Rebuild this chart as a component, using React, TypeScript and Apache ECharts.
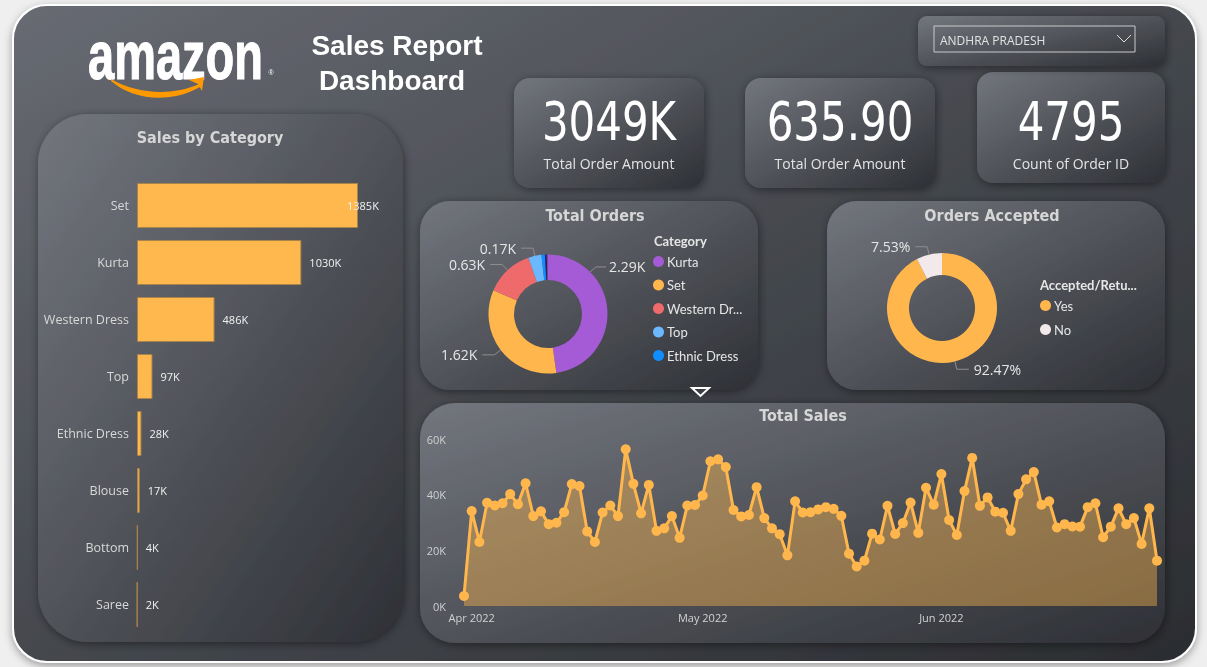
import React, { useEffect, useRef } from "react";
import * as echarts from "echarts";

// ---------- data ----------
const salesCategories = ["Set", "Kurta", "Western Dress", "Top", "Ethnic Dress", "Blouse", "Bottom", "Saree"];
const salesByCategoryK = [1385, 1030, 486, 97, 28, 17, 4, 2];

const orderCategories = ["Kurta", "Set", "Western Dress", "Top", "Ethnic Dress", "Blouse", "Bottom", "Saree"];
const orderCounts = [2290, 1620, 630, 170, 45, 25, 10, 5];
const orderColors = ["#a65bd6", "#ffb74d", "#ef6a6a", "#6cb8ff", "#118dff", "#12239e", "#e66c37", "#6b007b"];
const orderLegendCount = 5;

const acceptedLabels = ["Yes", "No"];
const acceptedShares = [92.47, 7.53];
const acceptedColors = ["#ffb74d", "#f3e9ea"];

const kpiValues = ["3049K", "635.90", "4795"];
const kpiLabels = ["Total Order Amount", "Total Order Amount", "Count of Order ID"];

const stateSelected = "ANDHRA PRADESH";

const salesStartDate = "2022-03-31";
const dailySalesK = [
  3.6, 34.1, 23.0, 37.1, 36.1, 36.9, 40.2, 36.6, 44.1, 32.3,
  34.0, 29.4, 29.9, 33.7, 43.8, 43.1, 26.8, 23.0, 33.6, 36.1,
  32.3, 56.3, 43.9, 33.3, 43.5, 27.0, 27.9, 32.3, 24.5, 36.1,
  36.3, 39.7, 52.0, 52.7, 49.9, 34.5, 32.2, 32.7, 42.7, 31.6,
  27.9, 25.8, 18.2, 37.6, 33.6, 33.7, 34.7, 35.5, 34.9, 32.4,
  18.8, 14.2, 16.3, 26.0, 23.9, 36.0, 25.9, 29.8, 37.2, 26.3,
  42.5, 36.4, 47.4, 30.9, 25.5, 41.3, 53.2, 36.0, 39.0, 33.9,
  33.5, 27.0, 40.2, 45.5, 48.1, 36.4, 37.6, 28.2, 29.4, 28.6,
  28.5, 35.5, 36.9, 24.7, 28.5, 35.1, 29.4, 31.6, 22.3, 35.1, 16.3,
];
const salesAxisMaxK = 60;
const salesAxisStepK = 20;
const monthNames = ["Jan", "Feb", "Mar", "Apr", "May", "Jun", "Jul", "Aug", "Sep", "Oct", "Nov", "Dec"];

// category list of dates (one per data point)
const salesDates: string[] = (() => {
  const out: string[] = [];
  const start = new Date(salesStartDate + "T00:00:00Z");
  for (let i = 0; i < dailySalesK.length; i++) {
    const d = new Date(start.getTime() + i * 86400000);
    out.push(d.toISOString().slice(0, 10));
  }
  return out;
})();

// ---------- layout constants ----------
const PIE1_CENTER = [548, 314];
const PIE1_RADIUS = [34, 59.5];
const PIE2_CENTER = [942, 308];
const PIE2_RADIUS = [33, 55];

const FONT_UI = "'Open Sans', 'Noto Sans', sans-serif";
const FONT_LEG = "Lato, 'Open Sans', sans-serif";
const FONT_DIN = "'DejaVu Sans Condensed', 'DejaVu Sans', sans-serif";

const cardFill = () =>
  new echarts.graphic.LinearGradient(0, 0, 1, 1, [
    { offset: 0, color: "#73767e" },
    { offset: 1, color: "#2e3035" },
  ]);

const card = (x: number, y: number, w: number, h: number, r: number) => ({
  type: "rect",
  shape: { x, y, width: w, height: h, r },
  style: {
    fill: cardFill(),
    shadowBlur: 10,
    shadowColor: "rgba(0,0,0,0.45)",
    shadowOffsetX: 1,
    shadowOffsetY: 2,
  },
  z: 1,
});

const txt = (x: number, y: number, text: string, size: number, opts: any = {}) => ({
  type: "text",
  x,
  y,
  z: 5,
  scaleX: opts.scaleX || 1,
  style: {
    text,
    fontSize: size,
    fontFamily: opts.family || FONT_DIN,
    fontWeight: opts.weight || "normal",
    fill: opts.color || "#d6d6d6",
    textAlign: opts.align || "center",
    textVerticalAlign: "middle",
  },
});

let shapeRegistered = false;
function registerShapes() {
  if (shapeRegistered) return;
  shapeRegistered = true;
  const smile =
    "M111,79 C135,93 170,97 199,84 L200,87 C170,104 133,100 111,81 Z M189,80 L204,77 L202,91 L198,84 Z";
  echarts.graphic.registerShape("smile", echarts.graphic.extendPath(smile, {}) as any);
}

export default function App() {
  const ref = useRef<HTMLDivElement>(null);

  useEffect(() => {
    if (!ref.current) return;
    registerShapes();
    const chart = echarts.init(ref.current, undefined, { renderer: "svg" });

    const kpiBoxes = [
      { x: 514, y: 78, w: 190, h: 110 },
      { x: 745, y: 78, w: 190, h: 110 },
      { x: 977, y: 72, w: 188, h: 111 },
    ];

    const graphics: any[] = [
      { type: "rect", shape: { x: 0, y: 0, width: 1207, height: 667 }, style: { fill: "#efefef" }, z: 0 },
      {
        type: "rect",
        shape: { x: 13, y: 5, width: 1183, height: 657, r: 34 },
        style: {
          fill: new echarts.graphic.LinearGradient(0, 0, 1, 1, [
            { offset: 0, color: "#686b73" },
            { offset: 0.5, color: "#45484e" },
            { offset: 1, color: "#2b2d31" },
          ]),
          stroke: "#ffffff",
          lineWidth: 2,
          shadowBlur: 8,
          shadowColor: "rgba(0,0,0,0.35)",
          shadowOffsetY: 3,
        },
        z: 0,
      },
      card(38, 114, 365, 528, 50),
      card(420, 201, 338, 189, 30),
      card(827, 201, 338, 189, 30),
      card(420, 403, 745, 240, 35),
      ...kpiBoxes.map((b) => card(b.x, b.y, b.w, b.h, 16)),
      card(918, 16, 247, 50, 9),
      {
        type: "rect",
        shape: { x: 934, y: 26, width: 201, height: 26 },
        style: { fill: "none", stroke: "#c9c9c9", lineWidth: 1 },
        z: 5,
      },
      txt(940, 40, stateSelected, 12, { align: "left", family: FONT_UI, color: "#e2e2e2" }),
      {
        type: "polyline",
        shape: { points: [[1117, 35], [1124, 42], [1131, 35]] },
        style: { stroke: "#dcdcdc", lineWidth: 1, fill: "none" },
        z: 5,
      },
      {
        type: "text",
        x: 88,
        y: 55,
        scaleY: 1.45,
        z: 5,
        style: {
          text: "amazon",
          fontSize: 47,
          fontFamily: "'Liberation Sans', Arial, sans-serif",
          fontWeight: "bold",
          fill: "#ffffff",
          stroke: "#ffffff",
          lineWidth: 0.8,
          textAlign: "left",
          textVerticalAlign: "middle",
        },
      },
      txt(271, 72, "®", 7, { family: "'Liberation Sans', sans-serif", color: "#ffffff" }),
      { type: "smile", x: 0, y: 0, z: 5, style: { fill: "#ff9900" } },
      txt(397, 45, "Sales Report", 28, { family: "'Liberation Sans', Arial, sans-serif", weight: "bold", color: "#ffffff" }),
      txt(392, 80, "Dashboard", 28, { family: "'Liberation Sans', Arial, sans-serif", weight: "bold", color: "#ffffff" }),
      ...kpiBoxes.flatMap((b, i) => [
        txt(b.x + b.w / 2, 122, kpiValues[i], 53, { color: "#ffffff", scaleX: 0.88 }),
        txt(b.x + b.w / 2, 163, kpiLabels[i], 14, { family: FONT_UI, color: "#e4e4e4" }),
      ]),
      txt(210, 137, "Sales by Category", 16, { weight: "bold" }),
      txt(595, 215, "Total Orders", 16, { weight: "bold" }),
      txt(992, 215, "Orders Accepted", 16, { weight: "bold" }),
      txt(803, 415, "Total Sales", 16, { weight: "bold" }),
      txt(654, 241, "Category", 13, { align: "left", family: FONT_LEG, weight: "bold", color: "#e6e6e6" }),
      txt(1040, 285, "Accepted/Retu...", 13, { align: "left", family: FONT_LEG, weight: "bold", color: "#e6e6e6" }),
      {
        type: "polygon",
        shape: { points: [[692, 388], [709, 388], [700.5, 396]] },
        style: { fill: "#3a3c41", stroke: "#ffffff", lineWidth: 2 },
        z: 5,
      },
    ];

    // Kurta label sits at the upper right of the donut, as in the report
    const kurtaLayout = (p: any) => {
      if (p.dataIndex !== 0) return {};
      const a = Math.PI / 4;
      const sx = PIE1_CENTER[0] + PIE1_RADIUS[1] * Math.sin(a);
      const sy = PIE1_CENTER[1] - PIE1_RADIUS[1] * Math.cos(a);
      const ly = sy - 5;
      return {
        x: sx + 19,
        y: ly,
        align: "left",
        verticalAlign: "middle",
        labelLinePoints: [
          [sx, sy],
          [sx + 6, ly],
          [sx + 16, ly],
        ],
      };
    };

    const legendText = { color: "#e6e6e6", fontSize: 13, fontFamily: FONT_LEG, padding: [0, 0, 0, -2] };

    const option: any = {
      animation: false,
      graphic: { elements: graphics },
      textStyle: { fontFamily: FONT_UI },
      legend: [
        {
          data: orderCategories.slice(0, orderLegendCount),
          orient: "vertical",
          left: 648,
          top: 250,
          icon: "circle",
          itemWidth: 11,
          itemHeight: 11,
          itemGap: 10.5,
          selectedMode: false,
          formatter: (n: string) => (n.length > 12 ? n.slice(0, 10) + "..." : n),
          textStyle: legendText,
        },
        {
          data: acceptedLabels,
          orient: "vertical",
          left: 1035,
          top: 294,
          icon: "circle",
          itemWidth: 11,
          itemHeight: 11,
          itemGap: 11,
          selectedMode: false,
          textStyle: legendText,
        },
      ],
      grid: [
        { left: 137, top: 177, width: 221, bottom: 34, containLabel: false },
        { left: 464, right: 50, top: 439, bottom: 61, containLabel: false },
      ],
      xAxis: [
        { type: "value", gridIndex: 0, min: 0, max: "dataMax", show: false },
        {
          type: "category",
          gridIndex: 1,
          z: 10,
          data: salesDates,
          boundaryGap: false,
          axisLine: { show: false },
          axisTick: { show: false },
          splitLine: { show: false },
          axisLabel: {
            interval: (_i: number, v: string) => v.endsWith("-01"),
            formatter: (v: string) => `${monthNames[parseInt(v.slice(5, 7), 10) - 1]} ${v.slice(0, 4)}`,
            color: "#d2d2d2",
            fontSize: 11,
            margin: 6,
          },
        },
      ],
      yAxis: [
        {
          type: "category",
          gridIndex: 0,
          z: 10,
          data: salesCategories,
          inverse: true,
          axisLine: { show: false },
          axisTick: { show: false },
          axisLabel: { color: "#d8d8d8", fontSize: 12.5, margin: 8 },
        },
        {
          type: "value",
          gridIndex: 1,
          z: 10,
          min: 0,
          max: salesAxisMaxK,
          interval: salesAxisStepK,
          splitLine: { show: false },
          axisLine: { show: false },
          axisTick: { show: false },
          axisLabel: { formatter: (v: number) => `${v}K`, color: "#cfcfcf", fontSize: 11, margin: 18 },
        },
      ],
      series: [
        {
          type: "bar",
          xAxisIndex: 0,
          yAxisIndex: 0,
          barCategoryGap: "21%",
          data: salesByCategoryK.map((v, i) => (i === 0 ? { value: v, label: { offset: [-19, 0] } } : v)),
          itemStyle: { color: "#ffb84d", borderColor: "#a8834a", borderWidth: 1 },
          label: {
            show: true,
            position: "right",
            distance: 8,
            formatter: (p: any) => `${p.value}K`,
            color: "#f2f2f2",
            fontSize: 11,
          },
          z: 3,
        },
        {
          type: "line",
          xAxisIndex: 1,
          yAxisIndex: 1,
          data: dailySalesK,
          symbol: "circle",
          symbolSize: 10,
          showAllSymbol: true,
          itemStyle: { color: "#ffb74d" },
          lineStyle: { color: "#ffb74d", width: 3 },
          areaStyle: { color: "#ffb74d", opacity: 0.42 },
          z: 3,
        },
        {
          type: "pie",
          center: PIE1_CENTER,
          radius: PIE1_RADIUS,
          startAngle: 90,
          clockwise: true,
          data: orderCategories.map((n, i) => ({
            name: n,
            value: orderCounts[i],
            itemStyle: { color: orderColors[i] },
            label: { show: i < 4 },
            labelLine: { show: i < 4 },
          })),
          label: {
            color: "#e6e6e6",
            fontSize: 14,
            formatter: (p: any) => `${(p.value / 1000).toFixed(2)}K`,
          },
          labelLine: { length: 8, length2: 12, lineStyle: { color: "#8e8e8e", width: 1 } },
          labelLayout: kurtaLayout,
          z: 3,
        },
        {
          type: "pie",
          center: PIE2_CENTER,
          radius: PIE2_RADIUS,
          startAngle: 90,
          clockwise: true,
          data: acceptedLabels.map((n, i) => ({
            name: n,
            value: acceptedShares[i],
            itemStyle: { color: acceptedColors[i] },
          })),
          label: {
            color: "#e6e6e6",
            fontSize: 14,
            formatter: (p: any) => `${p.value.toFixed(2)}%`,
          },
          labelLine: { length: 8, length2: 12, lineStyle: { color: "#8e8e8e", width: 1 } },
          z: 3,
        },
      ],
    };

    chart.setOption(option);
    return () => chart.dispose();
  }, []);

  return (
    <div
      ref={ref}
      style={{ position: "fixed", left: 0, top: 0, width: 1207, height: 667 }}
    />
  );
}
